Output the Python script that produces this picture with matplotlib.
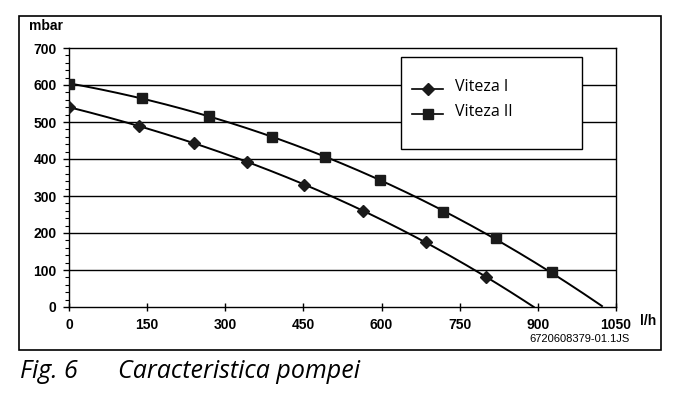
import numpy as np
import matplotlib.pyplot as plt
from matplotlib.patches import Rectangle
from matplotlib.lines import Line2D

# Viteza I (diamonds)
x1 = [0, 134, 240, 341, 452, 564, 685, 800]
y1 = [540, 489, 443, 393, 330, 260, 175, 82]
x1_end = 892
# Viteza II (squares)
x2 = [0, 141, 269, 389, 492, 597, 718, 819, 927]
y2 = [603, 566, 515, 460, 405, 343, 257, 186, 95]
x2_end = 1023

xticks = [0, 150, 300, 450, 600, 750, 900, 1050]
yticks = [0, 100, 200, 300, 400, 500, 600, 700]
labels = ["Viteza I", "Viteza II"]

fig = plt.figure(figsize=(6.91, 3.98), dpi=100)
fig.patches.append(Rectangle((19/691, 1-350/398), (661-19)/691, (350-16)/398,
                             transform=fig.transFigure, fill=False, lw=1.2, ec="black"))

ax = fig.add_axes([69/691, 1-307/398, (616-69)/691, (307-48)/398])
ax.set_xlim(0, 1050)
ax.set_ylim(0, 700)

def smooth(xs, ys, xe):
    xx = np.array(list(xs) + [xe])
    yy = np.array(list(ys) + [0])
    c = np.polyfit(xx, yy, 3)
    xs_f = np.linspace(0, xe, 200)
    return xs_f, np.polyval(c, xs_f)

sx, sy = smooth(x1, y1, x1_end)
ax.plot(sx, sy, color="black", lw=1.4, zorder=3)
ax.plot(x1, y1, ls="none", marker="D", ms=6, color="#1a1a1a", zorder=4)
sx, sy = smooth(x2, y2, x2_end)
ax.plot(sx, sy, color="black", lw=1.4, zorder=3)
ax.plot(x2, y2, ls="none", marker="s", ms=7.5, color="#1a1a1a", zorder=4)

for yv in yticks[1:-1]:
    ax.axhline(yv, color="black", lw=1.0, zorder=1)

for s in ax.spines.values():
    s.set_linewidth(1.0)

ax.set_xticks(xticks)
ax.set_yticks(yticks)
ax.set_yticks(np.arange(0, 701, 20), minor=True)
ax.tick_params(axis="y", which="major", direction="out", length=4, width=1, pad=5)
ax.tick_params(axis="y", which="minor", direction="out", length=3, width=0.8)
ax.tick_params(axis="x", which="major", direction="inout", length=6, width=1, pad=5)
for lab in ax.get_xticklabels() + ax.get_yticklabels():
    lab.set_fontfamily("Liberation Sans")
    lab.set_fontweight("bold")
    lab.set_fontsize(10)

# legend box
lx0, ly0, lx1, ly1 = 401/691, 1-149/398, 582/691, 1-57/398
fig.patches.append(Rectangle((lx0, ly0), lx1-lx0, ly1-ly0, transform=fig.transFigure,
                             fc="white", ec="black", lw=1.0, zorder=5))
for i, (lab, mk, ms) in enumerate(zip(labels, ["D", "s"], [6, 7.5])):
    yy = 1 - (89 + 25*i)/398
    fig.lines.append(Line2D([412/691, 443/691], [yy, yy], transform=fig.transFigure,
                            color="black", lw=1.2, zorder=6))
    fig.lines.append(Line2D([427.5/691], [yy], transform=fig.transFigure, marker=mk,
                            ms=ms, color="#1a1a1a", ls="none", zorder=6))
    fig.text(455/691, yy + 2/398, lab, fontsize=11.5, family="Open Sans",
             va="center", ha="left", zorder=7)

fig.text(29/691, 1-26/398, "mbar", fontsize=10, family="Liberation Sans",
         fontweight="bold", va="center", ha="left")
fig.text(640/691, 1-321/398, "l/h", fontsize=10, family="Liberation Sans",
         fontweight="bold", va="center", ha="left")
fig.text(630/691, 1-339/398, "6720608379-01.1JS", fontsize=8, family="Liberation Sans",
         va="center", ha="right")
fig.text(20/691, 1-371/398, "Fig. 6", fontsize=18, family="Open Sans",
         style="italic", va="center", ha="left")
fig.text(118/691, 1-371/398, "Caracteristica pompei", fontsize=18, family="Open Sans",
         style="italic", va="center", ha="left")

fig.savefig("out.png", dpi=100)
